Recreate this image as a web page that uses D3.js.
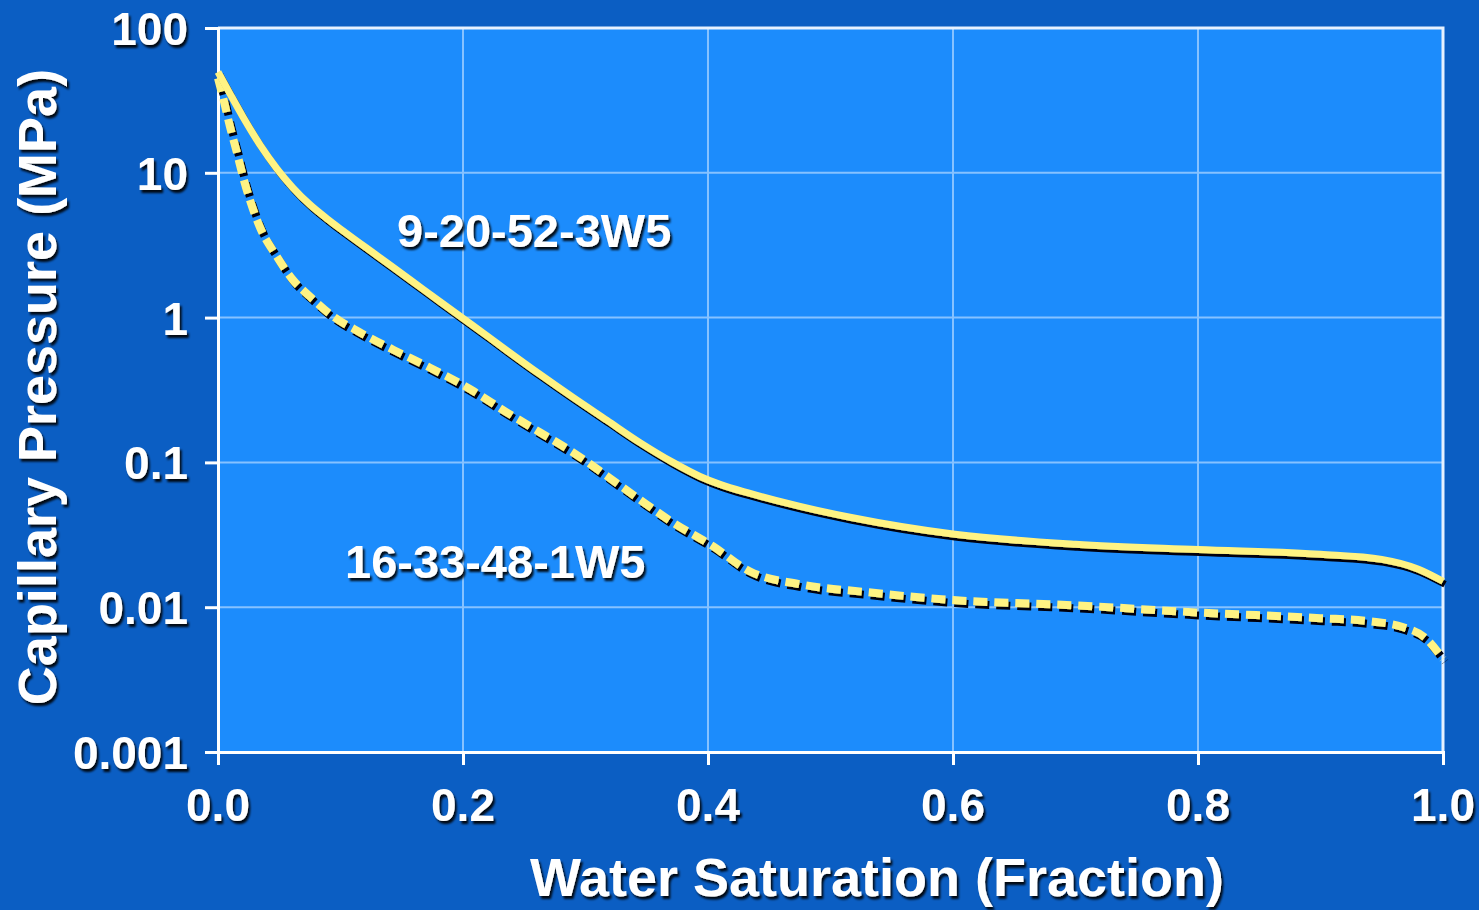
<!DOCTYPE html>
<html>
<head>
<meta charset="utf-8">
<script src="https://cdn.jsdelivr.net/npm/d3@7"></script>
<style>
  html, body { margin: 0; padding: 0; background: #0b5ec3; }
  svg { display: block; }
  text { font-family: "Liberation Sans", Arial, sans-serif; font-weight: bold; }
</style>
</head>
<body>
<svg id="chart" width="1479" height="910"></svg>
<script>
// Capillary pressure curves for two wells
const xTicks = [0, 0.2, 0.4, 0.6, 0.8, 1.0];
const xTickLabels = ["0.0", "0.2", "0.4", "0.6", "0.8", "1.0"];
const yTicks = [100, 10, 1, 0.1, 0.01, 0.001];
const yTickLabels = ["100", "10", "1", "0.1", "0.01", "0.001"];

const wellA = "9-20-52-3W5";
const swA = [0, 0.0098, 0.0204, 0.0343, 0.0482, 0.0612, 0.0751, 0.089, 0.102, 0.1298, 0.1567, 0.1812, 0.2082, 0.2359, 0.2629, 0.2898, 0.3176, 0.3445, 0.3714, 0.3935, 0.4098, 0.4343, 0.4751, 0.5159, 0.6016, 0.7, 0.8, 0.9, 0.95, 0.98, 1.0];
const pcA = [49.7, 35.1, 24.3, 15.6, 10.66, 7.88, 6.02, 4.82, 3.98, 2.68, 1.83, 1.29, 0.881, 0.592, 0.405, 0.281, 0.195, 0.137, 0.100, 0.080, 0.0705, 0.0611, 0.0497, 0.0418, 0.0319, 0.0272, 0.025, 0.0232, 0.0214, 0.0183, 0.0151];

const wellB = "16-33-48-1W5";
const swB = [0, 0.004, 0.0098, 0.0155, 0.0204, 0.026, 0.034, 0.048, 0.061, 0.075, 0.094, 0.116, 0.143, 0.171, 0.206, 0.236, 0.263, 0.290, 0.318, 0.344, 0.371, 0.404, 0.434, 0.475, 0.53, 0.6, 0.7, 0.8, 0.9, 0.94, 0.967, 0.985, 1.0];
const pcB = [45, 33.4, 20.8, 13.7, 9.4, 6.5, 4.25, 2.64, 1.83, 1.40, 1.02, 0.79, 0.60, 0.46, 0.32, 0.221, 0.161, 0.117, 0.080, 0.0556, 0.0386, 0.0264, 0.0177, 0.0144, 0.0127, 0.0112, 0.0103, 0.0092, 0.0084, 0.008, 0.0073, 0.0062, 0.0044];

const xTitle = "Water Saturation (Fraction)";
const yTitle = "Capillary Pressure (MPa)";

(function () {
  const svg = d3.select("#chart");
  const W = 1479, H = 910;
  const pL = 218, pR = 1443, pT = 28, pB = 752;

  // drop shadows for text and curves
  const defs = svg.append("defs");
  defs.append("filter").attr("id", "textShadow")
    .attr("x", "-10%").attr("y", "-20%").attr("width", "120%").attr("height", "150%")
    .append("feDropShadow")
    .attr("dx", 2).attr("dy", 3).attr("stdDeviation", 0.8)
    .attr("flood-color", "#000").attr("flood-opacity", 0.9);
  defs.append("filter").attr("id", "lineShadow")
    .attr("x", "-5%").attr("y", "-5%").attr("width", "110%").attr("height", "110%")
    .append("feDropShadow")
    .attr("dx", 2).attr("dy", 3).attr("stdDeviation", 0.5)
    .attr("flood-color", "#05050f").attr("flood-opacity", 1);

  svg.append("rect").attr("width", W).attr("height", H).attr("fill", "#0b5ec3");

  const x = d3.scaleLinear().domain([0, 1]).range([pL, pR]);
  const y = d3.scaleLog().domain([0.001, 100]).range([pB, pT]);

  // plot area
  svg.append("rect")
    .attr("x", pL).attr("y", pT)
    .attr("width", pR - pL).attr("height", pB - pT)
    .attr("fill", "#1c8cfc");

  // interior gridlines
  const grid = svg.append("g").attr("stroke", "#86c2ff").attr("stroke-width", 2);
  grid.selectAll("line.v").data(xTicks.slice(1, -1)).join("line")
    .attr("x1", d => x(d)).attr("x2", d => x(d))
    .attr("y1", pT).attr("y2", pB);
  grid.selectAll("line.h").data(yTicks.slice(1, -1)).join("line")
    .attr("y1", d => y(d)).attr("y2", d => y(d))
    .attr("x1", pL).attr("x2", pR);

  // top and right frame
  svg.append("path")
    .attr("d", `M${pL},${y(100)}H${x(1)}V${pB}`)
    .attr("fill", "none").attr("stroke", "#e6f1ff").attr("stroke-width", 3);

  // axes
  const xAxis = d3.axisBottom(x).tickValues(xTicks).tickSize(13).tickFormat("");
  const yAxis = d3.axisLeft(y).tickValues(yTicks).tickSize(13).tickFormat("");
  const gx = svg.append("g").attr("transform", `translate(0,${pB})`).call(xAxis);
  const gy = svg.append("g").attr("transform", `translate(${pL},0)`).call(yAxis);
  [gx, gy].forEach(g => {
    g.select(".domain").attr("stroke", "#ffffff").attr("stroke-width", 3);
    g.selectAll(".tick line").attr("stroke", "#ffffff").attr("stroke-width", 3);
  });

  // white label with shadow; the shadow filter sits on an unrotated wrapper
  const labels = svg.append("g");
  function label(xPos, yPos, str, size, anchor, rotate) {
    const wrap = labels.append("g").attr("filter", "url(#textShadow)");
    wrap.append("text")
      .attr("transform", `translate(${xPos},${yPos})` + (rotate ? ` rotate(${rotate})` : ""))
      .attr("text-anchor", anchor).attr("font-size", size).attr("fill", "#ffffff")
      .text(str);
  }

  xTicks.forEach((t, i) => label(x(t), 821, xTickLabels[i], 46, "middle"));
  yTicks.forEach((t, i) => label(188, y(t) + 17, yTickLabels[i], 46, "end"));

  // curves
  const line = d3.line()
    .x(d => x(d[0])).y(d => y(d[1]))
    .curve(d3.curveMonotoneX);
  const dataA = swA.map((s, i) => [s, pcA[i]]);
  const dataB = swB.map((s, i) => [s, pcB[i]]);

  const curves = svg.append("g");
  function drawCurve(data, dash, width) {
    curves.append("g").attr("filter", "url(#lineShadow)")
      .append("path").datum(data).attr("d", line)
      .attr("fill", "none").attr("stroke", "#fff383").attr("stroke-width", width)
      .attr("stroke-dasharray", dash);
  }
  drawCurve(dataB, "14,7", 8);
  drawCurve(dataA, null, 7);

  // series labels
  label(397, 247, wellA, 47, "start");
  label(345, 578, wellB, 47, "start");

  // axis titles
  label(877, 896, xTitle, 54, "middle");
  label(56, 387, yTitle, 54, "middle", -90);
})();
</script>
</body>
</html>
